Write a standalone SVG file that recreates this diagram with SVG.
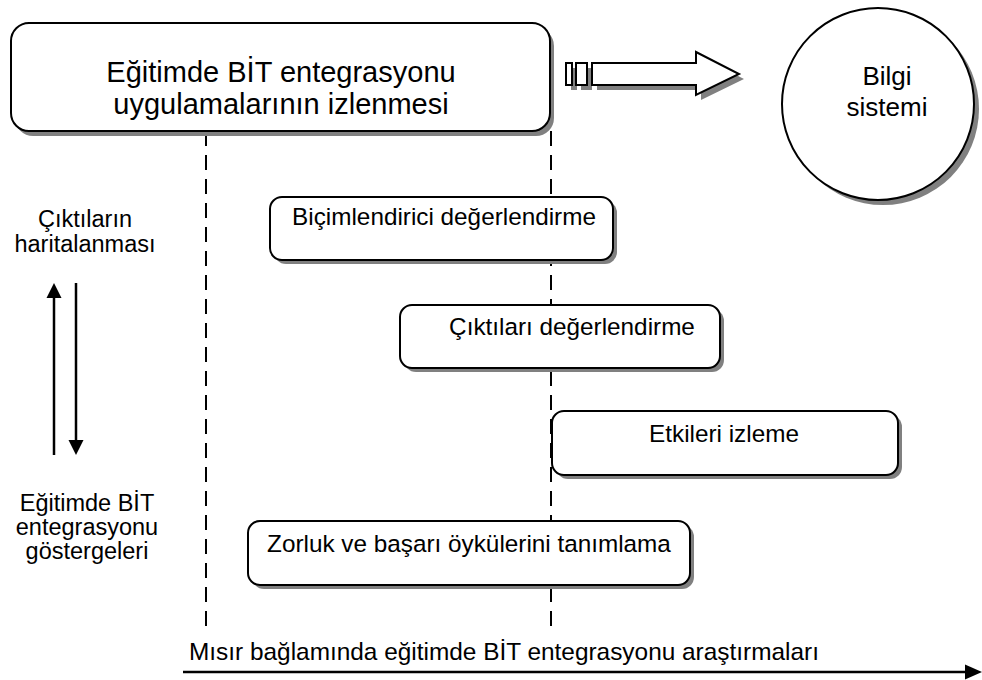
<svg xmlns="http://www.w3.org/2000/svg" width="982" height="680" viewBox="0 0 982 680">
<style>
text{font-family:"Liberation Sans",Arial,sans-serif;fill:#000}
.box{fill:#fff;stroke:#000;stroke-width:2}
.sh{fill:#808080;stroke:none}
.dash{stroke:#000;stroke-width:2;stroke-dasharray:15 9;fill:none}
.t{font-size:23.5px;text-anchor:middle}
.b{font-size:24.3px;text-anchor:middle}
</style>
<rect width="982" height="680" fill="#fff"/>
<g id="connectors">
<line class="dash" x1="206" y1="131" x2="206" y2="630"/>
<line class="dash" x1="551" y1="131" x2="551" y2="630"/>
<line x1="54" y1="455" x2="54" y2="298" stroke="#000" stroke-width="2.5"/>
<path d="M54,283 L46.5,298 L61.5,298 Z" fill="#000"/>
<line x1="76" y1="283" x2="76" y2="440" stroke="#000" stroke-width="2.5"/>
<path d="M76,455 L68.5,440 L83.5,440 Z" fill="#000"/>
<line x1="183" y1="672" x2="966" y2="672" stroke="#000" stroke-width="2.5"/>
<path d="M982,672 L965,664.5 L965,679.5 Z" fill="#000"/>
</g>
<g id="top-box">
<rect class="sh" x="15" y="28" width="539" height="108" rx="18"/>
<rect class="box" x="11" y="23" width="539" height="108" rx="18"/>
<text x="281" y="82" font-size="29" text-anchor="middle">Eğitimde BİT entegrasyonu</text>
<text x="281" y="114" font-size="29" text-anchor="middle">uygulamalarının izlenmesi</text>
</g>
<g id="block-arrow">
<g transform="translate(5,5)" class="sh">
<rect x="566" y="63" width="6" height="22"/>
<rect x="576" y="63" width="11" height="22"/>
<path d="M592,63 L696,63 L696,52 L739,74 L696,95 L696,85 L592,85 Z"/>
</g>
<rect class="box" x="566" y="63" width="6" height="22" stroke-width="1.8"/>
<rect class="box" x="576" y="63" width="11" height="22" stroke-width="1.8"/>
<path class="box" stroke-width="1.8" d="M592,63 L696,63 L696,52 L739,74 L696,95 L696,85 L592,85 Z"/>
</g>
<g id="bilgi-sistemi">
<circle class="sh" cx="883" cy="109" r="96"/>
<circle class="box" cx="878" cy="104" r="96"/>
<text x="887" y="85" font-size="26" text-anchor="middle">Bilgi</text>
<text x="887" y="116" font-size="26" text-anchor="middle">sistemi</text>
</g>
<g id="label-ciktilarin">
<text class="t" x="85" y="227">Çıktıların</text>
<text class="t" x="85" y="252">haritalanması</text>
</g>
<g id="label-gostergeler">
<text class="t" x="87" y="511">Eğitimde BİT</text>
<text class="t" x="87" y="535">entegrasyonu</text>
<text class="t" x="87" y="559">göstergeleri</text>
</g>
<g id="bicimlendirici">
<rect class="sh" x="274" y="201" width="343" height="63" rx="12"/>
<rect class="box" x="270" y="197" width="343" height="63" rx="12"/>
<text class="b" x="444" y="225">Biçimlendirici değerlendirme</text>
</g>
<g id="ciktilari">
<rect class="sh" x="404" y="309" width="320" height="63" rx="12"/>
<rect class="box" x="400" y="305" width="320" height="63" rx="12"/>
<text class="b" x="572" y="335">Çıktıları değerlendirme</text>
</g>
<g id="etkileri">
<rect class="sh" x="556" y="415" width="346" height="64" rx="12"/>
<rect class="box" x="552" y="411" width="346" height="64" rx="12"/>
<text class="b" x="724" y="442">Etkileri izleme</text>
</g>
<g id="zorluk">
<rect class="sh" x="252" y="525" width="442" height="64" rx="12"/>
<rect class="box" x="248" y="521" width="442" height="64" rx="12"/>
<text class="b" x="469" y="552">Zorluk ve başarı öykülerini tanımlama</text>
</g>
<g id="bottom-label">
<text x="189" y="660" font-size="24.4">Mısır bağlamında eğitimde BİT entegrasyonu araştırmaları</text>
</g>
</svg>
